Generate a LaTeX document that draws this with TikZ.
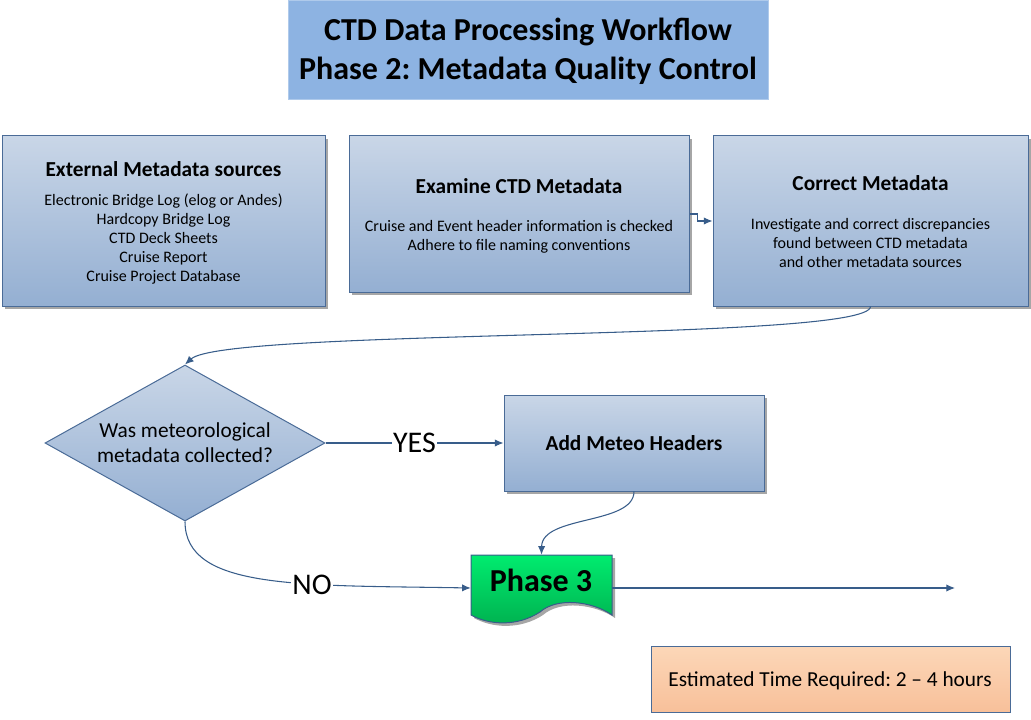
\documentclass[tikz,border=0pt]{standalone}
\usepackage{fontspec}
\setmainfont{Carlito}
\frenchspacing
\usetikzlibrary{shapes.geometric,arrows.meta,fit,shadows}
\definecolor{lineblue}{HTML}{385D8A}
\definecolor{boxborder}{HTML}{4A6B97}
\definecolor{boxtop}{HTML}{C9D6E7}
\definecolor{boxbot}{HTML}{94AFD2}
\definecolor{titlefill}{HTML}{8DB3E2}
\definecolor{greentop}{HTML}{00EC6F}
\definecolor{greenbot}{HTML}{00B04F}
\definecolor{peachtop}{HTML}{FCD7B8}
\definecolor{peachbot}{HTML}{F8C09A}
\begin{document}
\begin{tikzpicture}[x=0.75pt,y=-0.75pt,
  box/.style={draw=boxborder, line width=0.75pt, top color=boxtop, bottom color=boxbot,
    inner sep=0pt, drop shadow={shadow xshift=2pt, shadow yshift=-2pt, fill=black!35, opacity=1}},
  head/.style={font=\fontsize{16}{19}\selectfont\bfseries, inner sep=0pt},
  body/.style={font=\fontsize{12}{14.25}\selectfont, align=center, inner sep=0pt},
  conn/.style={draw=lineblue, line width=0.8pt, -{Latex[length=6.5pt,width=5.5pt]}},
  lab/.style={font=\fontsize{22.5}{27}\selectfont, fill=white, inner sep=1pt},
]
\useasboundingbox (0,0) rectangle (1031,720);

% title
\node[fit={(288,1)(768,100)}, inner sep=0pt, fill=titlefill, draw=titlefill!70!white, line width=0.75pt] (title) {};
\node[font=\fontsize{24}{29.25}\selectfont\bfseries, align=center, inner sep=0pt] (titletext) at (528,51)
  {CTD Data Processing Workflow\\Phase 2: Metadata Quality Control};

% top boxes
\node[box, fit={(2,136)(325,306)}] (b1) {};
\node[head] (b1h) at (163.5,169) {External Metadata sources};
\node[body] (b1t) at (163.5,239) {Electronic Bridge Log (elog or Andes)\\Hardcopy Bridge Log\\CTD Deck Sheets\\Cruise Report\\Cruise Project Database};

\node[box, fit={(349,136)(689,292)}] (b2) {};
\node[head] (b2h) at (519,186) {Examine CTD Metadata};
\node[body] (b2t) at (519,236.5) {Cruise and Event header information is checked\\Adhere to file naming conventions};

\node[box, fit={(713,136)(1028,306)}] (b3) {};
\node[head] (b3h) at (870.5,183) {Correct Metadata};
\node[body] (b3t) at (870.5,243) {Investigate and correct discrepancies\\found between CTD metadata\\and other metadata sources};

% decision
\node[diamond, draw=boxborder, line width=0.75pt, top color=boxtop, bottom color=boxbot,
  minimum width=210pt, minimum height=117pt, inner sep=0pt] (dia) at (185,443) {};
\node[font=\fontsize{16}{18.5}\selectfont, align=center, inner sep=0pt] (diat) at (185,443)
  {Was meteorological\\metadata collected?};

% add meteo
\node[box, fit={(504,395)(764,491)}] (meteo) {};
\node[head] (meteoh) at (634,443) {Add Meteo Headers};

% phase 3 document shape
\node[fit={(471,555)(612,621)}, inner sep=0pt] (p3) {};
\fill[black!35] (474,558) -- (615,558) -- (615,618)
  .. controls (595,604) and (560,600) .. (543,615)
  .. controls (520,630) and (492,628) .. (474,618) -- cycle;
\path[draw=lineblue, line width=0.75pt, top color=greentop, bottom color=greenbot]
  (471,555) -- (612,555) -- (612,615)
  .. controls (592,601) and (557,597) .. (540,612)
  .. controls (517,627) and (489,625) .. (471,615) -- cycle;
\node[font=\fontsize{24}{28}\selectfont\bfseries, inner sep=0pt] (p3t) at (541,580) {Phase 3};

% estimated time
\node[fit={(651,646)(1010,712)}, inner sep=0pt, draw=boxborder, line width=0.75pt,
  top color=peachtop, bottom color=peachbot] (est) {};
\node[font=\fontsize{16}{19}\selectfont, inner sep=0pt] (estt) at (830,681) {Estimated Time Required: 2 -- 4 hours};

% connectors
\draw[conn] (b2.east) -- ++(8,0) |- (b3.west);
\draw[conn] (b3.south) .. controls (870,342) and (225,328) .. (dia.north);
\draw[conn] (dia.east) -- node[lab, midway] (yes) {YES} (meteo.west);
\draw[conn] (dia.south) .. controls (185,590) and (300,585) .. (p3.west);
\node[lab] (no) at (312,585) {NO};
\draw[conn] (meteo.south) .. controls (634,525) and (542,515) .. (p3.north);
\coordinate (exit) at (955,588);
\draw[conn] (p3.east) -- (exit);
\end{tikzpicture}
\end{document}
